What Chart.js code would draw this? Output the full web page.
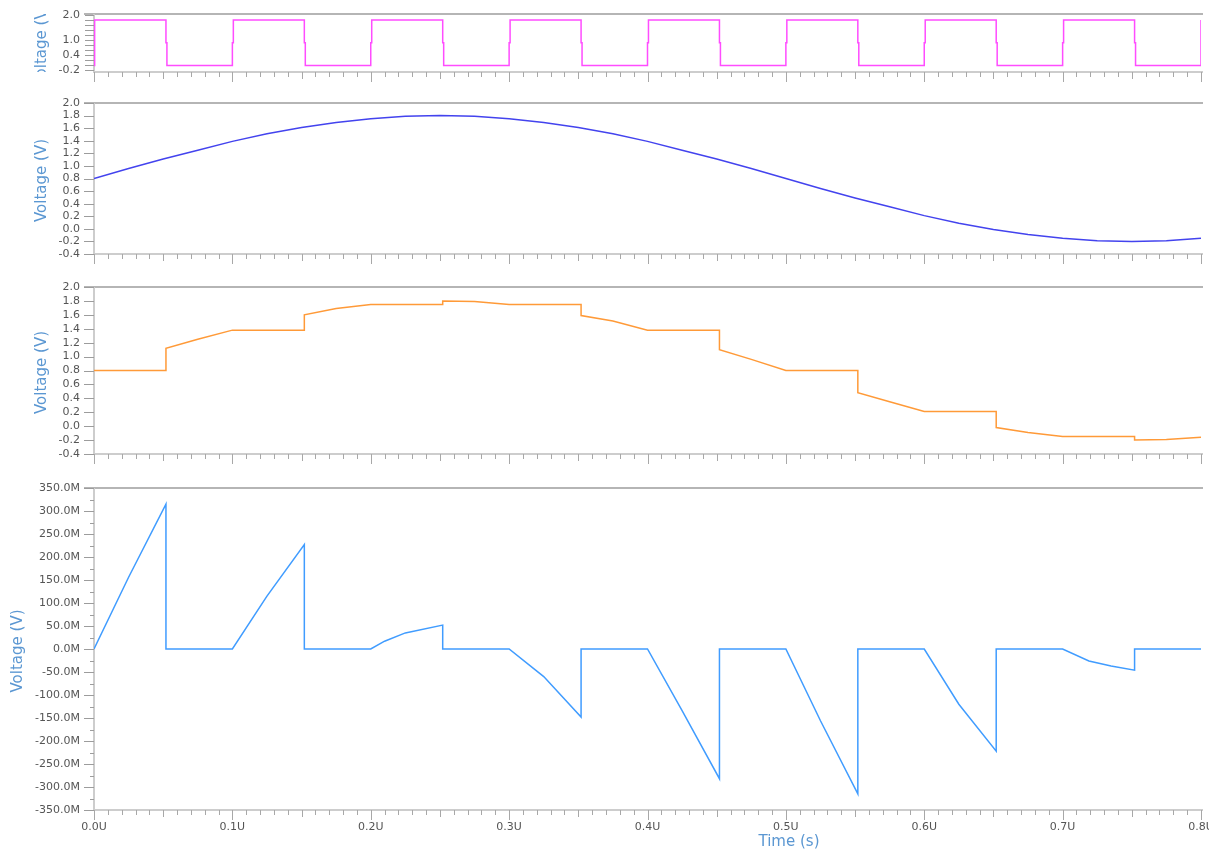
<!DOCTYPE html>
<html>
<head>
<meta charset="utf-8">
<title>Sample and hold transient</title>
<script src="https://cdn.jsdelivr.net/npm/chart.js@4.4.1/dist/chart.umd.min.js"></script>
<style>
  html, body { margin: 0; padding: 0; background: #ffffff; }
  #wrap { position: relative; width: 1209px; height: 850px; overflow: hidden; }
  #wrap canvas { position: absolute; left: 0; top: 0; }
</style>
</head>
<body>
<div id="wrap">
  <canvas id="clock" width="1209" height="850"></canvas>
  <canvas id="input" width="1209" height="850"></canvas>
  <canvas id="held" width="1209" height="850"></canvas>
  <canvas id="err" width="1209" height="850"></canvas>
</div>
<script>
// ---- waveform data (time in µs, voltage in V, error in mV) ----
const clockTime = [
  0, 0, 0.0007, 0.0007, 0.052, 0.052, 0.0527, 0.0527,
  0.1, 0.1, 0.1007, 0.1007, 0.152, 0.152, 0.1527, 0.1527,
  0.2, 0.2, 0.2007, 0.2007, 0.252, 0.252, 0.2527, 0.2527,
  0.3, 0.3, 0.3007, 0.3007, 0.352, 0.352, 0.3527, 0.3527,
  0.4, 0.4, 0.4007, 0.4007, 0.452, 0.452, 0.4527, 0.4527,
  0.5, 0.5, 0.5007, 0.5007, 0.552, 0.552, 0.5527, 0.5527,
  0.6, 0.6, 0.6007, 0.6007, 0.652, 0.652, 0.6527, 0.6527,
  0.7, 0.7, 0.7007, 0.7007, 0.752, 0.752, 0.7527, 0.7527,
  0.8, 0.8, 0.8
];
const clockLevel = [
  0, 0.9, 0.9, 1.8, 1.8, 0.9, 0.9, 0,
  0, 0.9, 0.9, 1.8, 1.8, 0.9, 0.9, 0,
  0, 0.9, 0.9, 1.8, 1.8, 0.9, 0.9, 0,
  0, 0.9, 0.9, 1.8, 1.8, 0.9, 0.9, 0,
  0, 0.9, 0.9, 1.8, 1.8, 0.9, 0.9, 0,
  0, 0.9, 0.9, 1.8, 1.8, 0.9, 0.9, 0,
  0, 0.9, 0.9, 1.8, 1.8, 0.9, 0.9, 0,
  0, 0.9, 0.9, 1.8, 1.8, 0.9, 0.9, 0,
  0, 0.9, 1.8
];

const inputTime = [
  0, 0.025, 0.05, 0.075, 0.1, 0.125, 0.15, 0.175, 0.2, 0.225, 0.25,
  0.275, 0.3, 0.325, 0.35, 0.375, 0.4, 0.425, 0.45, 0.475, 0.5,
  0.525, 0.55, 0.575, 0.6, 0.625, 0.65, 0.675, 0.7, 0.725, 0.75,
  0.775, 0.8
];
const inputVolt = [
  0.80, 0.96, 1.11, 1.25, 1.39, 1.51, 1.61, 1.69, 1.75, 1.79, 1.80,
  1.79, 1.75, 1.69, 1.61, 1.51, 1.39, 1.25, 1.11, 0.96, 0.80,
  0.64, 0.49, 0.35, 0.21, 0.09, -0.01, -0.09, -0.15, -0.19, -0.20,
  -0.19, -0.15
];

const heldTime = [
  0, 0.052, 0.052, 0.075, 0.1, 0.152, 0.152, 0.175, 0.2, 0.252, 0.252,
  0.275, 0.3, 0.352, 0.352, 0.375, 0.4, 0.452, 0.452, 0.475, 0.5,
  0.552, 0.552, 0.575, 0.6, 0.652, 0.652, 0.675, 0.7, 0.752, 0.752,
  0.775, 0.8
];
const heldVolt = [
  0.80, 0.80, 1.12, 1.25, 1.38, 1.38, 1.60, 1.69, 1.75, 1.75, 1.80,
  1.79, 1.75, 1.75, 1.59, 1.51, 1.38, 1.38, 1.10, 0.96, 0.80,
  0.80, 0.48, 0.35, 0.21, 0.21, -0.02, -0.09, -0.15, -0.15, -0.20,
  -0.19, -0.16
];

const errTime = [
  0, 0.025, 0.052, 0.052, 0.1, 0.125, 0.152, 0.152, 0.2, 0.21, 0.225,
  0.252, 0.252, 0.3, 0.325, 0.352, 0.352, 0.4, 0.425, 0.452, 0.452,
  0.5, 0.525, 0.552, 0.552, 0.6, 0.625, 0.652, 0.652, 0.7, 0.719,
  0.735, 0.752, 0.752, 0.8
];
const errMilliVolt = [
  0, 156, 315, 0, 0, 115, 227, 0, 0, 17, 35,
  52, 0, 0, -60, -148, 0, 0, -134, -282, 0,
  0, -156, -315, 0, 0, -120, -222, 0, 0, -26,
  -37, -46, 0, 0
];

// ---- axis tick values ----
const timeTicks = [0, 0.1, 0.2, 0.3, 0.4, 0.5, 0.6, 0.7, 0.8];
const clockTickLabels = [2.0, 1.0, 0.4, -0.2];
const clockTickMarks = [2.0, 1.8, 1.6, 1.4, 1.2, 1.0, 0.8, 0.6, 0.4, 0.2, 0.0, -0.2];
const voltTicks = [2.0, 1.8, 1.6, 1.4, 1.2, 1.0, 0.8, 0.6, 0.4, 0.2, 0.0, -0.2, -0.4];
const errTicks = [350, 300, 250, 200, 150, 100, 50, 0, -50, -100, -150, -200, -250, -300, -350];
const errMinorTicks = [325, 275, 225, 175, 125, 75, 25, -25, -75, -125, -175, -225, -275, -325];

const Y_TITLE = 'Voltage (V)';
const X_TITLE = 'Time (s)';
const TITLE_COLOR = '#5b97d2';
const TICK_FONT = { family: '"DejaVu Sans", sans-serif', size: 11 };
const TITLE_FONT = '15px "DejaVu Sans", sans-serif';

const toPoints = (ts, vs) => ts.map((t, i) => ({ x: t, y: vs[i] }));

function seg(ctx, x1, y1, x2, y2) {
  ctx.beginPath();
  ctx.moveTo(x1, y1);
  ctx.lineTo(x2, y2);
  ctx.stroke();
}

// Axis frame, tick marks and axis titles for one stacked panel.
const framePlugin = {
  id: 'frame',
  beforeDatasetsDraw(chart, args, o) {
    const { ctx, chartArea: a, scales: { x, y } } = chart;
    ctx.save();
    // top border
    ctx.strokeStyle = '#9c9c9c';
    ctx.lineWidth = 1.5;
    seg(ctx, a.left - 10, a.top, a.right + 2, a.top);
    // left and bottom axis lines
    ctx.strokeStyle = '#cdcdcd';
    ctx.lineWidth = 2;
    seg(ctx, a.left, a.top, a.left, a.bottom + 1);
    seg(ctx, a.left - 1, a.bottom, a.right + 2, a.bottom);
    // y tick marks
    ctx.strokeStyle = '#9c9c9c';
    ctx.lineWidth = 1;
    o.majors.forEach(v => {
      const py = Math.round(y.getPixelForValue(v)) + 0.5;
      seg(ctx, a.left - o.majorLen, py, a.left, py);
    });
    o.minors.forEach(v => {
      const py = Math.round(y.getPixelForValue(v)) + 0.5;
      seg(ctx, a.left - 4, py, a.left, py);
    });
    // x tick marks: 0.01 µs minor, 0.05 medium, 0.1 major
    ctx.strokeStyle = '#a8a8a8';
    for (let i = 0; i <= 80; i++) {
      const px = Math.round(x.getPixelForValue(i / 100)) + 0.5;
      const len = i % 10 === 0 ? 10 : (i % 5 === 0 ? 7 : 5);
      seg(ctx, px, a.bottom, px, a.bottom + len);
    }
    ctx.restore();
  },
  afterDraw(chart, args, o) {
    const { ctx, chartArea: a } = chart;
    ctx.save();
    // y title, clipped to the panel height
    ctx.beginPath();
    ctx.rect(0, a.top, a.left, a.bottom - a.top);
    ctx.clip();
    ctx.translate(o.titleX, (a.top + a.bottom) / 2 + 2);
    ctx.rotate(-Math.PI / 2);
    ctx.font = TITLE_FONT;
    ctx.fillStyle = TITLE_COLOR;
    ctx.textAlign = 'center';
    ctx.textBaseline = 'middle';
    ctx.fillText(Y_TITLE, 0, 0);
    ctx.restore();
    if (o.timeTitle) {
      ctx.save();
      ctx.font = TITLE_FONT;
      ctx.fillStyle = TITLE_COLOR;
      ctx.textAlign = 'center';
      ctx.textBaseline = 'middle';
      ctx.fillText(X_TITLE, o.timeTitleX, o.timeTitleY);
      ctx.restore();
    }
  }
};

const AXIS_LEFT = 94;
const AREA_RIGHT = 1201;
const H = 850, W = 1209;

const panels = [
  { id: 'clock', top: 14, bottom: 72, min: -0.26, max: 2.04,
    data: toPoints(clockTime, clockLevel), color: '#ff4cff',
    labels: clockTickLabels, majors: clockTickMarks, minors: [], majorLen: 9,
    fmt: v => v.toFixed(1), titleX: 42, showTime: false },
  { id: 'input', top: 103, bottom: 254, min: -0.4, max: 2.0,
    data: toPoints(inputTime, inputVolt), color: '#4343ee',
    labels: voltTicks, majors: voltTicks, minors: [], majorLen: 10,
    fmt: v => v.toFixed(1), titleX: 42, showTime: false },
  { id: 'held', top: 287, bottom: 454, min: -0.4, max: 2.0,
    data: toPoints(heldTime, heldVolt), color: '#ff9a38',
    labels: voltTicks, majors: voltTicks, minors: [], majorLen: 10,
    fmt: v => v.toFixed(1), titleX: 42, showTime: false },
  { id: 'err', top: 488, bottom: 810, min: -350, max: 350,
    data: toPoints(errTime, errMilliVolt), color: '#409cff',
    labels: errTicks, majors: errTicks, minors: errMinorTicks, majorLen: 10,
    fmt: v => v.toFixed(1) + 'M', titleX: 18, showTime: true }
];

panels.forEach(p => {
  const xH = p.showTime ? 30 : 0;
  new Chart(document.getElementById(p.id), {
    type: 'line',
    data: {
      datasets: [{
        data: p.data,
        borderColor: p.color,
        borderWidth: 1.5,
        pointRadius: 0,
        tension: 0,
        fill: false
      }]
    },
    options: {
      responsive: false,
      animation: false,
      devicePixelRatio: 1,
      events: [],
      layout: { padding: { top: p.top, bottom: H - p.bottom - xH, left: 0, right: W - AREA_RIGHT } },
      plugins: {
        legend: { display: false },
        tooltip: { enabled: false },
        frame: {
          majors: p.majors, minors: p.minors, majorLen: p.majorLen,
          titleX: p.titleX, timeTitle: p.showTime, timeTitleX: 789, timeTitleY: 842
        }
      },
      scales: {
        x: {
          type: 'linear', min: 0, max: 0.8,
          grid: { display: false, drawTicks: false, tickLength: 0 },
          border: { display: false },
          afterBuildTicks: s => { s.ticks = timeTicks.map(v => ({ value: v })); },
          afterFit: s => { s.height = xH; s.paddingLeft = 0; s.paddingRight = 0; },
          ticks: {
            display: p.showTime, autoSkip: false, maxRotation: 0, padding: 11,
            color: '#555555', font: TICK_FONT,
            callback: v => v.toFixed(1) + 'U'
          }
        },
        y: {
          type: 'linear', min: p.min, max: p.max,
          grid: { display: false, drawTicks: false, tickLength: 0 },
          border: { display: false },
          afterBuildTicks: s => { s.ticks = p.labels.map(v => ({ value: v })); },
          afterFit: s => { s.width = AXIS_LEFT; s.paddingTop = 0; s.paddingBottom = 0; },
          ticks: {
            autoSkip: false, padding: 14, color: '#555555', font: TICK_FONT,
            callback: v => p.fmt(v)
          }
        }
      }
    },
    plugins: [framePlugin]
  });
});
</script>
</body>
</html>
